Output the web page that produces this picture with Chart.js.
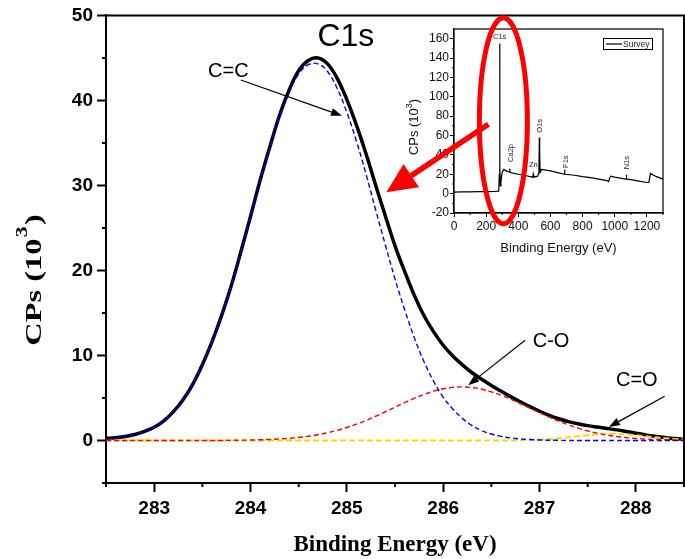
<!DOCTYPE html>
<html>
<head>
<meta charset="utf-8">
<script src="https://cdn.jsdelivr.net/npm/chart.js@4/dist/chart.umd.min.js"></script>
<style>
  body { margin: 0; background: #fff; }
  #wrap { position: relative; width: 685px; height: 559px; }
  #inset { position: absolute; left: 380px; top: 0; z-index: 1; }
  #main { position: absolute; left: 0; top: 0; z-index: 2; }
</style>
</head>
<body>
<div id="wrap">
  <canvas id="inset" width="305" height="270"></canvas>
  <canvas id="main" width="685" height="559"></canvas>
</div>
<script>
// ---------- C1s high resolution data ----------
const energia = [
  282.5, 282.6, 282.7, 282.8, 282.9, 283.0, 283.1, 283.2, 283.3, 283.4,
  283.5, 283.6, 283.7, 283.8, 283.9, 284.0, 284.1, 284.2, 284.3, 284.4,
  284.5, 284.6, 284.7, 284.8, 284.9, 285.0, 285.1, 285.2, 285.3, 285.4,
  285.5, 285.6, 285.7, 285.8, 285.9, 286.0, 286.1, 286.2, 286.3, 286.4,
  286.5, 286.6, 286.7, 286.8, 286.9, 287.0, 287.1, 287.2, 287.3, 287.4,
  287.5, 287.6, 287.7, 287.8, 287.9, 288.0, 288.1, 288.2, 288.3, 288.4,
  288.5
];
const picoCC = [
  0.16, 0.27, 0.44, 0.69, 1.07, 1.55, 2.3, 3.4, 4.8, 6.6,
  8.9, 11.6, 14.7, 18.2, 22.2, 26.3, 30.5, 34.4, 38.0, 40.9,
  43.1, 44.2, 44.3, 43.4, 41.4, 38.6, 35.2, 31.3, 27.1, 23.0,
  19.0, 15.4, 12.1, 9.3, 7.0, 5.1, 3.7, 2.6, 1.75, 1.17,
  0.76, 0.48, 0.30, 0.18, 0.11, 0.06, 0.03, 0.02, 0, 0,
  0, 0, 0, 0, 0, 0, 0, 0, 0, 0,
  0
];
const picoCO = [
  0, 0, 0, 0, 0, 0, 0, 0, 0, 0,
  0, 0, 0, 0.02, 0.03, 0.05, 0.08, 0.12, 0.18, 0.26,
  0.36, 0.50, 0.68, 0.91, 1.19, 1.53, 1.92, 2.36, 2.85, 3.38,
  3.91, 4.45, 4.96, 5.41, 5.79, 6.08, 6.25, 6.30, 6.22, 6.03,
  5.72, 5.33, 4.86, 4.34, 3.81, 3.27, 2.75, 2.27, 1.84, 1.46,
  1.13, 0.86, 0.64, 0.47, 0.34, 0.24, 0.16, 0.11, 0.07, 0.05,
  0.03
];
const picoC2O = [
  0, 0, 0, 0, 0, 0, 0, 0, 0, 0,
  0, 0, 0, 0, 0, 0, 0, 0, 0, 0,
  0, 0, 0, 0, 0, 0, 0, 0, 0, 0,
  0, 0, 0, 0, 0, 0, 0, 0, 0, 0,
  0, 0, 0, 0.03, 0.06, 0.11, 0.18, 0.27, 0.38, 0.5,
  0.62, 0.72, 0.78, 0.78, 0.72, 0.62, 0.5, 0.38, 0.27, 0.18,
  0.11
];
const envolvente = [
  0.25, 0.32, 0.46, 0.7, 1.07, 1.55, 2.3, 3.4, 4.8, 6.6,
  8.9, 11.6, 14.7, 18.2, 22.2, 26.35, 30.6, 34.5, 38.2, 41.2,
  43.5, 44.7, 45.0, 44.3, 42.6, 40.1, 37.1, 33.7, 30.0, 26.4,
  22.9, 19.9, 17.1, 14.7, 12.8, 11.2, 9.95, 8.9, 7.97, 7.2,
  6.48, 5.81, 5.16, 4.55, 3.98, 3.44, 2.96, 2.56, 2.22, 1.96,
  1.75, 1.58, 1.42, 1.25, 1.06, 0.86, 0.66, 0.49, 0.34, 0.23,
  0.14
];
const ticksX = [283, 284, 285, 286, 287, 288];
const ticksXmenor = [282.5, 283.5, 284.5, 285.5, 286.5, 287.5, 288.5];
const ticksY = [0, 10, 20, 30, 40, 50];
const ticksYmenor = [-5, 5, 15, 25, 35, 45];

// ---------- Survey (inset) ----------
const surveyE = [
  0, 50, 100, 150, 200, 250, 278, 282, 284, 286, 288, 292, 296, 300, 310,
  330, 345, 347, 349, 360, 400, 450, 490, 493, 496, 520, 528, 531, 533, 536,
  545, 600, 650, 686, 688, 690, 750, 800, 850, 900, 950, 962, 968, 975, 1000,
  1050, 1070, 1072, 1074, 1100, 1150, 1200, 1212, 1222, 1230, 1260, 1300
];
const surveyCps = [
  1.5, 1.8, 1.8, 2, 2, 2.2, 2.5, 20, 155, 30, 8, 12, 18, 22, 25,
  23, 22.5, 26, 22, 21.5, 20, 18.5, 17, 20, 17, 18, 22, 58, 40, 22,
  25, 23.5, 21.5, 20, 25, 20, 19, 17.5, 16.5, 15, 13.5, 12.5, 16, 18, 17,
  15.5, 15, 19.5, 15, 14.5, 13, 11.5, 11.5, 21, 20, 17.5, 15
];
const ticksSx = [0, 200, 400, 600, 800, 1000, 1200];
const ticksSxMenor = [100, 300, 500, 700, 900, 1100, 1300];
const ticksSy = [-20, 0, 20, 40, 60, 80, 100, 120, 140, 160];
const ticksSyMenor = [-10, 10, 30, 50, 70, 90, 110, 130, 150];

const SANS = "'Liberation Sans', Arial, sans-serif";
const SERIF = "'Liberation Serif', 'Times New Roman', serif";

function puntos(xs, ys) {
  return xs.map((x, i) => ({ x: x, y: ys[i] }));
}

function flecha(ctx, x1, y1, x2, y2, color, lw, largo, ancho) {
  const a = Math.atan2(y2 - y1, x2 - x1);
  const bx = x2 - largo * Math.cos(a), by = y2 - largo * Math.sin(a);
  ctx.save();
  ctx.strokeStyle = color;
  ctx.fillStyle = color;
  ctx.lineWidth = lw;
  ctx.beginPath(); ctx.moveTo(x1, y1); ctx.lineTo(bx, by); ctx.stroke();
  ctx.beginPath();
  ctx.moveTo(x2, y2);
  ctx.lineTo(bx + ancho * Math.sin(a), by - ancho * Math.cos(a));
  ctx.lineTo(bx - ancho * Math.sin(a), by + ancho * Math.cos(a));
  ctx.closePath(); ctx.fill();
  ctx.restore();
}

function ticksMenores(ctx, chart, xs, ys, largo, lw) {
  const a = chart.chartArea, sx = chart.scales.x, sy = chart.scales.y;
  ctx.save();
  ctx.strokeStyle = "#000";
  ctx.lineWidth = lw;
  ctx.beginPath();
  xs.forEach(v => { const p = sx.getPixelForValue(v); ctx.moveTo(p, a.bottom); ctx.lineTo(p, a.bottom + largo); });
  ys.forEach(v => { const p = sy.getPixelForValue(v); ctx.moveTo(a.left, p); ctx.lineTo(a.left - largo, p); });
  ctx.stroke();
  ctx.restore();
}

// ---------- main chart ----------
const decorPrincipal = {
  id: "decorPrincipal",
  afterDraw(chart) {
    const ctx = chart.ctx, a = chart.chartArea;
    const sx = chart.scales.x, sy = chart.scales.y;
    const X = v => sx.getPixelForValue(v), Y = v => sy.getPixelForValue(v);

    // top and right frame
    ctx.save();
    ctx.strokeStyle = "#000";
    ctx.lineWidth = 2;
    ctx.beginPath();
    ctx.moveTo(a.left, a.top); ctx.lineTo(a.right, a.top); ctx.lineTo(a.right, a.bottom);
    ctx.stroke();
    ctx.restore();

    ticksMenores(ctx, chart, ticksXmenor, ticksYmenor, 4, 2);

    // axis titles
    ctx.save();
    ctx.fillStyle = "#000";
    ctx.font = "bold 23px " + SERIF;
    ctx.textAlign = "center";
    ctx.textBaseline = "alphabetic";
    ctx.fillText("Binding Energy (eV)", (a.left + a.right) / 2, 551);

    ctx.translate(41, 280);
    ctx.rotate(-Math.PI / 2);
    ctx.scale(1.35, 1);
    ctx.textAlign = "left";
    const t1 = "CPs (10", t3 = ")";
    ctx.font = "bold 24px " + SERIF;
    const w1 = ctx.measureText(t1).width, w3 = ctx.measureText(t3).width;
    ctx.font = "bold 16px " + SERIF;
    const w2 = ctx.measureText("3").width;
    let x0 = -(w1 + w2 + w3 + 2) / 2;
    ctx.font = "bold 24px " + SERIF;
    ctx.fillText(t1, x0, 0);
    ctx.font = "bold 16px " + SERIF;
    ctx.fillText("3", x0 + w1 + 1, -14);
    ctx.font = "bold 24px " + SERIF;
    ctx.fillText(t3, x0 + w1 + w2 + 2, 0);
    ctx.restore();

    // peak labels
    ctx.save();
    ctx.fillStyle = "#000";
    ctx.textAlign = "center";
    ctx.font = "32px " + SANS;
    ctx.fillText("C1s", X(284.99), Y(46.4));
    ctx.font = "20px " + SANS;
    ctx.fillText("C=C", X(283.77), Y(42.8));
    ctx.fillText("C-O", X(287.12), Y(11.0));
    ctx.fillText("C=O", X(288.01), Y(6.45));
    ctx.restore();
    flecha(ctx, X(283.9), Y(42.4), X(284.95), Y(38.2), "#000", 1.2, 11, 4);
    flecha(ctx, X(286.85), Y(11.8), X(286.26), Y(6.5), "#000", 1.2, 11, 4);
    flecha(ctx, X(288.3), Y(5.2), X(287.72), Y(1.6), "#000", 1.2, 11, 4);

    // red highlight: ellipse round the C1s line of the survey and arrow
    ctx.save();
    ctx.strokeStyle = "#ff0000";
    ctx.lineWidth = 5;
    ctx.beginPath();
    ctx.ellipse(X(286.625), Y(37.6), 24, 103, 0, 0, Math.PI * 2);
    ctx.stroke();
    ctx.restore();
    flecha(ctx, X(286.47), Y(37.2), X(285.41), Y(29.2), "#ff0000", 5.5, 30, 14);
  }
};

new Chart(document.getElementById("main"), {
  type: "line",
  data: {
    datasets: [
      { label: "C=C", data: puntos(energia, picoCC), borderColor: "#0000ff", borderWidth: 1.4, borderDash: [5, 3] },
      { label: "C-O", data: puntos(energia, picoCO), borderColor: "#ff0000", borderWidth: 1.4, borderDash: [5, 3] },
      { label: "C=O", data: puntos(energia, picoC2O), borderColor: "#f2dc00", borderWidth: 2, borderDash: [6, 3] },
      { label: "Envolvente", data: puntos(energia, envolvente), borderColor: "#000", borderWidth: 3.5 }
    ]
  },
  options: {
    responsive: false,
    animation: false,
    layout: { padding: { top: 14, right: 1, left: 0, bottom: 0 } },
    elements: { point: { radius: 0 }, line: { tension: 0.4, fill: false } },
    plugins: { legend: { display: false }, tooltip: { enabled: false } },
    scales: {
      x: {
        type: "linear", min: 282.5, max: 288.5,
        afterBuildTicks: s => { s.ticks = ticksX.map(v => ({ value: v })); },
        afterFit: s => { s.height = 76; },
        ticks: { color: "#000", padding: 5, font: { family: SANS, size: 19, weight: "bold" }, callback: v => String(v) },
        grid: { display: true, drawOnChartArea: false, drawTicks: true, tickLength: 9, tickWidth: 2, tickColor: "#000" },
        border: { display: true, color: "#000", width: 2 }
      },
      y: {
        type: "linear", min: -5, max: 50,
        afterBuildTicks: s => { s.ticks = ticksY.map(v => ({ value: v })); },
        afterFit: s => { s.width = 106; },
        ticks: { color: "#000", padding: 4, font: { family: SANS, size: 19, weight: "bold" }, callback: v => String(v) },
        grid: { display: true, drawOnChartArea: false, drawTicks: true, tickLength: 9, tickWidth: 2, tickColor: "#000" },
        border: { display: true, color: "#000", width: 2 }
      }
    }
  },
  plugins: [decorPrincipal]
});

// ---------- inset survey ----------
const etiquetasSurvey = [
  { t: "C1s", e: 284, v: 160, rot: false },
  { t: "Ca2p", e: 347, v: 42, rot: true },
  { t: "Zn", e: 493, v: 28, rot: false },
  { t: "O1s", e: 531, v: 70, rot: true },
  { t: "F1s", e: 688, v: 33, rot: true },
  { t: "N1s", e: 1072, v: 32, rot: true }
];

const decorInset = {
  id: "decorInset",
  afterDraw(chart) {
    const ctx = chart.ctx, a = chart.chartArea;
    const sx = chart.scales.x, sy = chart.scales.y;
    ctx.save();
    ctx.strokeStyle = "#000";
    ctx.lineWidth = 1.2;
    ctx.strokeRect(a.left, a.top, a.right - a.left, a.bottom - a.top);
    ctx.restore();
    ticksMenores(ctx, chart, ticksSxMenor, ticksSyMenor, 2, 1);

    ctx.save();
    ctx.fillStyle = "#222";
    ctx.font = "7.5px " + SANS;
    etiquetasSurvey.forEach(l => {
      const px = sx.getPixelForValue(l.e), py = sy.getPixelForValue(l.v);
      if (l.rot) {
        ctx.save();
        ctx.translate(px + 3, py);
        ctx.rotate(-Math.PI / 2);
        ctx.textAlign = "center";
        ctx.fillText(l.t, 0, 0);
        ctx.restore();
      } else {
        ctx.textAlign = "center";
        ctx.fillText(l.t, px, py);
      }
    });
    ctx.restore();

    // legend
    const ds = chart.data.datasets[0];
    ctx.save();
    ctx.strokeStyle = "#000";
    ctx.lineWidth = 1;
    ctx.strokeRect(223.5, 38.5, 49, 11);
    ctx.lineWidth = 1.2;
    ctx.beginPath(); ctx.moveTo(226, 44); ctx.lineTo(242, 44); ctx.stroke();
    ctx.fillStyle = "#222";
    ctx.font = "8.5px " + SANS;
    ctx.textBaseline = "middle";
    ctx.fillText(ds.label, 243, 44.5);
    ctx.restore();

    // titles
    ctx.save();
    ctx.fillStyle = "#111";
    ctx.font = "13px " + SANS;
    ctx.textAlign = "center";
    ctx.fillText("Binding Energy (eV)", (a.left + a.right) / 2, 252);
    ctx.translate(38, 127);
    ctx.rotate(-Math.PI / 2);
    ctx.textAlign = "left";
    const t1 = "CPs (10", t3 = ")";
    const w1 = ctx.measureText(t1).width, w3 = ctx.measureText(t3).width;
    ctx.font = "9px " + SANS;
    const w2 = ctx.measureText("3").width;
    const x0 = -(w1 + w2 + w3) / 2;
    ctx.font = "13px " + SANS;
    ctx.fillText(t1, x0, 0);
    ctx.font = "9px " + SANS;
    ctx.fillText("3", x0 + w1, -6);
    ctx.font = "13px " + SANS;
    ctx.fillText(t3, x0 + w1 + w2, 0);
    ctx.restore();
  }
};

new Chart(document.getElementById("inset"), {
  type: "line",
  data: {
    datasets: [
      { label: "Survey", data: puntos(surveyE, surveyCps), borderColor: "#000", borderWidth: 1.2 }
    ]
  },
  options: {
    responsive: false,
    animation: false,
    layout: { padding: { top: 29, right: 22, left: 0, bottom: 0 } },
    elements: { point: { radius: 0 }, line: { tension: 0, fill: false } },
    plugins: { legend: { display: false }, tooltip: { enabled: false } },
    scales: {
      x: {
        type: "linear", min: 0, max: 1300,
        afterBuildTicks: s => { s.ticks = ticksSx.map(v => ({ value: v })); },
        afterFit: s => { s.height = 57; },
        ticks: { color: "#111", padding: 2, font: { family: SANS, size: 12 }, callback: v => String(v) },
        grid: { display: true, drawOnChartArea: false, drawTicks: true, tickLength: 4, tickWidth: 1, tickColor: "#000" },
        border: { display: true, color: "#000", width: 1.2 }
      },
      y: {
        type: "linear", min: -20, max: 170,
        afterBuildTicks: s => { s.ticks = ticksSy.map(v => ({ value: v })); },
        afterFit: s => { s.width = 74; },
        ticks: { color: "#111", padding: 1, font: { family: SANS, size: 12 }, callback: v => String(v) },
        grid: { display: true, drawOnChartArea: false, drawTicks: true, tickLength: 4, tickWidth: 1, tickColor: "#000" },
        border: { display: true, color: "#000", width: 1.2 }
      }
    }
  },
  plugins: [decorInset]
});
</script>
</body>
</html>
